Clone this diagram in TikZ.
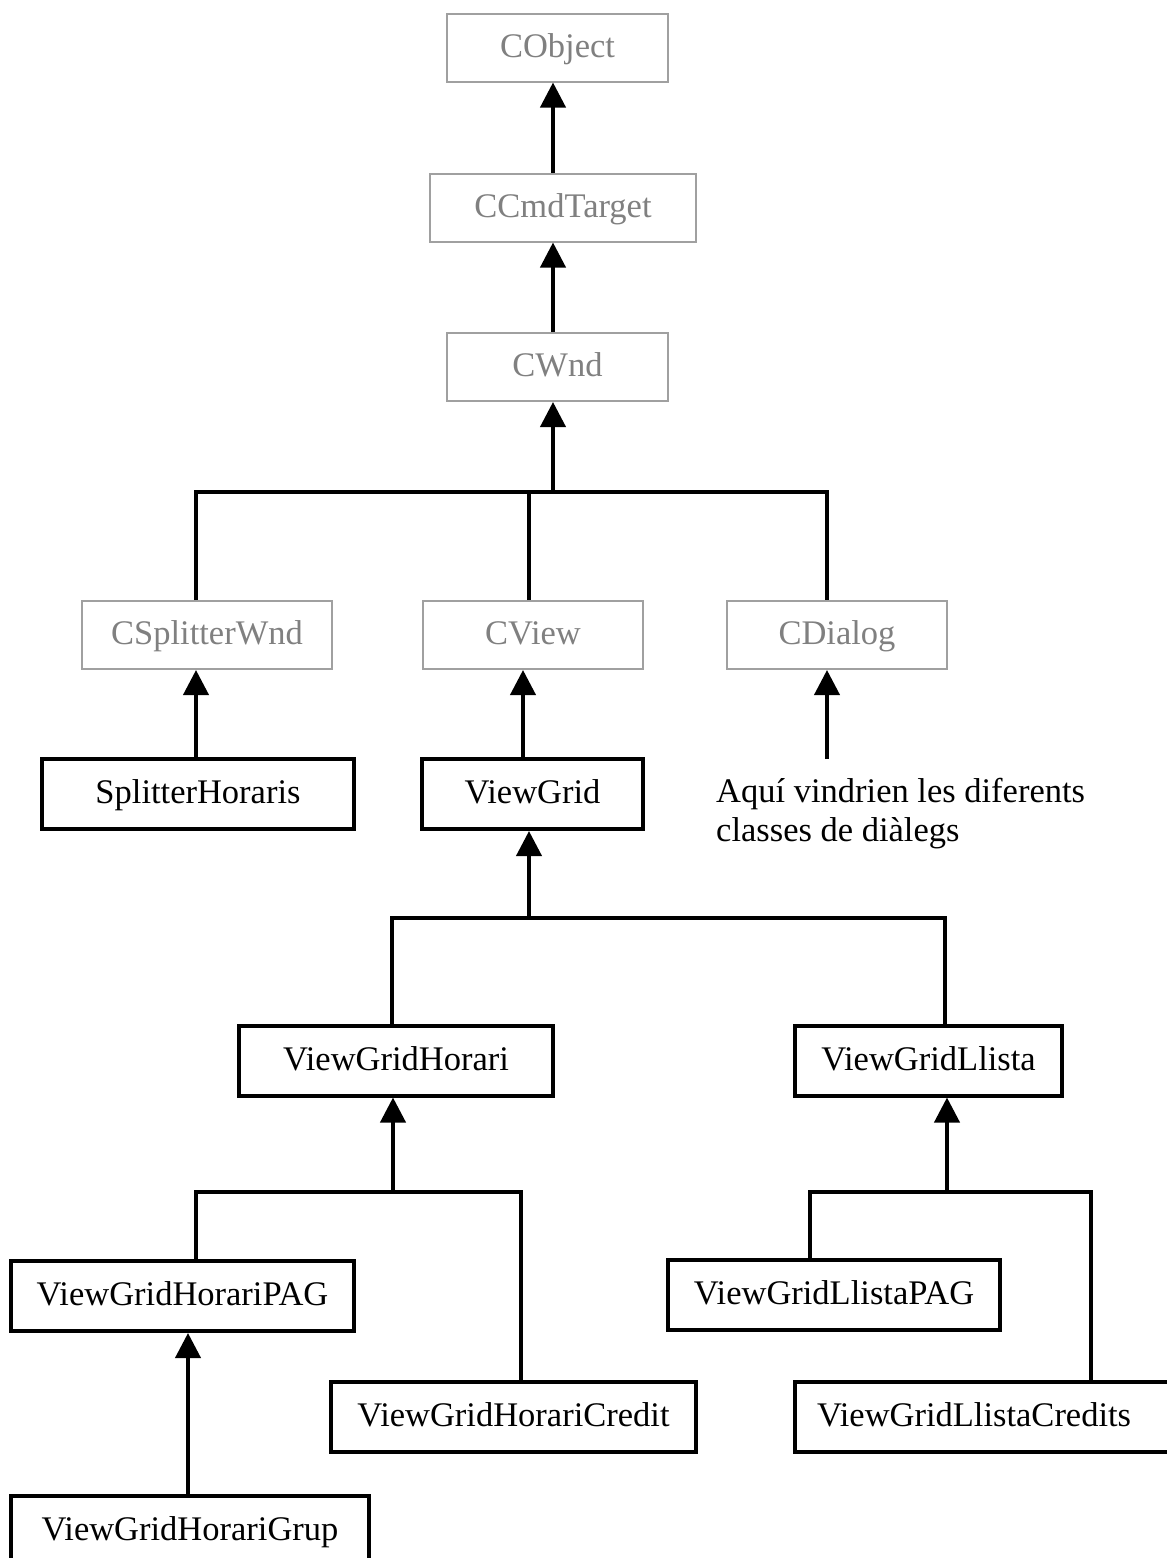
\documentclass[tikz,border=0pt]{standalone}
\usepackage{fontspec}
\setmainfont{Liberation Serif}
\usetikzlibrary{arrows.meta}
\definecolor{basetext}{RGB}{128,128,128}
\definecolor{baseedge}{RGB}{160,160,160}
\begin{document}
\begin{tikzpicture}[x=1pt,y=-1pt,
  every node/.style={font=\fontsize{34.5}{39}\selectfont, inner sep=0pt},
  classbox/.style={text height=25.9pt, text depth=6.9pt},
  base/.style={classbox, draw=baseedge, line width=2pt, text=basetext, minimum height=68pt},
  own/.style={classbox, draw=black, line width=4pt, minimum height=70pt},
  conn/.style={line width=4pt, line join=miter},
  inh/.style={conn, -{Triangle[width=25pt,length=25pt]}},
]
\useasboundingbox (0,0) rectangle (1167,1558);
\fill[white] (0,0) rectangle (1167,1558);
\clip (0,0) rectangle (1167,1558);

% library base classes
\node[base, minimum width=221pt] (CObject) at (557.5,47.5) {CObject};
\node[base, minimum width=266pt] (CCmdTarget) at (563,207.5) {CCmdTarget};
\node[base, minimum width=221pt] (CWnd) at (557.5,367) {CWnd};
\node[base, minimum width=250pt] (CSplitterWnd) at (207,635) {CSplitterWnd};
\node[base, minimum width=220pt] (CView) at (533,635) {CView};
\node[base, minimum width=220pt] (CDialog) at (837,635) {CDialog};

% application classes
\node[own, minimum width=312pt] (SplitterHoraris) at (198,794) {SplitterHoraris};
\node[own, minimum width=221pt] (ViewGrid) at (532.5,794) {ViewGrid};
\node[own, minimum width=314pt] (ViewGridHorari) at (396,1060.5) {ViewGridHorari};
\node[own, minimum width=267pt] (ViewGridLlista) at (928.5,1060.5) {ViewGridLlista};
\node[own, minimum width=343pt] (ViewGridHorariPAG) at (182.5,1296) {ViewGridHorariPAG};
\node[own, minimum width=365pt] (ViewGridHorariCredit) at (513.5,1416.5) {ViewGridHorariCredit};
\node[own, minimum width=332pt] (ViewGridLlistaPAG) at (834,1294.5) {ViewGridLlistaPAG};
\node[own, minimum width=385pt, text width=341pt, align=left, inner xsep=22pt] (ViewGridLlistaCredits) at (987.5,1416.5) {ViewGridLlistaCredits};
\node[own, minimum width=358pt] (ViewGridHorariGrup) at (190,1531) {ViewGridHorariGrup};

\node[anchor=north west, align=left] (note) at (716,778) {Aquí vindrien les diferents\\classes de diàlegs};

% MFC chain
\draw[inh] (CCmdTarget.north -| 553,0) -- (CObject.south -| 553,0);
\draw[inh] (CWnd.north -| 553,0) -- (CCmdTarget.south -| 553,0);
\coordinate (j1) at (553,492);
\draw[inh] (j1) -- (CWnd.south -| j1);
\draw[conn] (CSplitterWnd.north -| 196,0) |- (j1) -| (CDialog.north -| 827,0);
\draw[conn] (CView.north -| 529,0) -- (j1 -| 529,0);

\draw[inh] (SplitterHoraris.north -| 196,0) -- (CSplitterWnd.south -| 196,0);
\draw[inh] (ViewGrid.north -| 523,0) -- (CView.south -| 523,0);
\coordinate (dlgfoot) at (827,759);
\draw[inh] (dlgfoot) -- (CDialog.south -| dlgfoot);

% grid views
\coordinate (j2) at (529,918);
\draw[inh] (j2) -- (ViewGrid.south -| j2);
\draw[conn] (ViewGridHorari.north -| 392,0) |- (j2) -| (ViewGridLlista.north -| 945,0);

\coordinate (j3) at (393,1192);
\draw[inh] (j3) -- (ViewGridHorari.south -| j3);
\draw[conn] (ViewGridHorariPAG.north -| 196,0) |- (j3) -| (ViewGridHorariCredit.north -| 521,0);

\coordinate (j4) at (947,1192);
\draw[inh] (j4) -- (ViewGridLlista.south -| j4);
\draw[conn] (ViewGridLlistaPAG.north -| 810,0) |- (j4) -| (ViewGridLlistaCredits.north -| 1091,0);

\draw[inh] (ViewGridHorariGrup.north -| 188,0) -- (ViewGridHorariPAG.south -| 188,0);
\end{tikzpicture}
\end{document}
